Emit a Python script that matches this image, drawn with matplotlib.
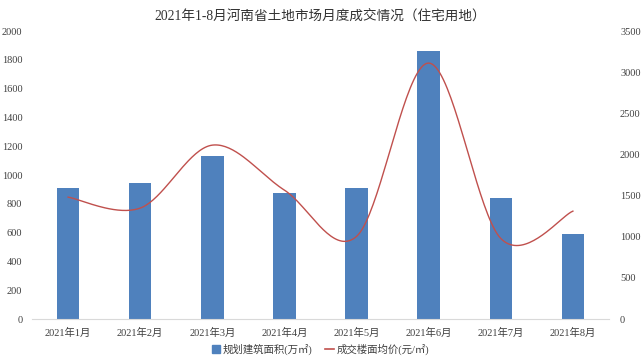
import numpy as np
import matplotlib
matplotlib.use("Agg")
import matplotlib.pyplot as plt
from matplotlib.lines import Line2D
from matplotlib.patches import Patch

plt.rcParams['font.family'] = ['Liberation Serif', 'Noto Sans CJK SC', 'DejaVu Sans']

# data
months = ['2021年1月', '2021年2月', '2021年3月', '2021年4月',
          '2021年5月', '2021年6月', '2021年7月', '2021年8月']
area = [910, 944, 1132, 875, 910, 1861, 840, 590]          # 规划建筑面积(万㎡)
price = [1482, 1349, 2114, 1567, 1005, 3111, 980, 1312]    # 成交楼面均价(元/㎡)

bar_color = '#4f81bd'
line_color = '#c0504d'
text_color = '#404040'


def smooth(xs, ys, n=40):
    # catmull-rom style bezier, like the "smoothed line" option in spreadsheets
    xs = np.asarray(xs, float)
    ys = np.asarray(ys, float)
    px = np.concatenate([[xs[0]], xs, [xs[-1]]])
    py = np.concatenate([[ys[0]], ys, [ys[-1]]])
    ox, oy = [], []
    t = np.linspace(0, 1, n)
    for i in range(1, len(px) - 2):
        p0 = np.array([px[i], py[i]])
        p3 = np.array([px[i + 1], py[i + 1]])
        p1 = p0 + (np.array([px[i + 1], py[i + 1]]) - np.array([px[i - 1], py[i - 1]])) / 6
        p2 = p3 - (np.array([px[i + 2], py[i + 2]]) - np.array([px[i], py[i]])) / 6
        b = ((1 - t) ** 3)[:, None] * p0 + (3 * (1 - t) ** 2 * t)[:, None] * p1 \
            + (3 * (1 - t) * t ** 2)[:, None] * p2 + (t ** 3)[:, None] * p3
        ox.extend(b[:, 0])
        oy.extend(b[:, 1])
    return np.array(ox), np.array(oy)


fig = plt.figure(figsize=(6.41, 3.61), dpi=100)
ax = fig.add_axes([0.05, 0.116, 0.9, 0.798])
x = np.arange(len(months))
ax.bar(x, area, width=0.31, color=bar_color)
ax.set_xlim(-0.5, len(months) - 0.5)
ax.set_ylim(0, 2000)
ax.set_yticks(np.arange(0, 2001, 200))
ax.set_xticks(x)
ax.set_xticklabels(months)

ax2 = ax.twinx()
sx, sy = smooth(x, price)
ax2.plot(sx, sy, color=line_color, lw=1)
ax2.set_ylim(0, 3500)
ax2.set_yticks(np.arange(0, 3501, 500))

for a in (ax, ax2):
    for s in a.spines.values():
        s.set_visible(False)
    a.tick_params(length=0, labelsize=7.5, colors=text_color)
ax.spines['bottom'].set_visible(True)
ax.spines['bottom'].set_color('#d9d9d9')
ax.tick_params(axis='y', pad=7)
ax2.tick_params(axis='y', pad=8)
ax.tick_params(axis='x', pad=6)

fig.suptitle('2021年1-8月河南省土地市场月度成交情况（住宅用地）', y=0.975,
             fontsize=9.8, color='#333333')

handles = [Patch(color=bar_color, label='规划建筑面积(万㎡)'),
           Line2D([], [], color=line_color, lw=1.2, label='成交楼面均价(元/㎡)')]
fig.legend(handles=handles, loc='lower center', ncol=2, frameon=False,
           fontsize=7.5, bbox_to_anchor=(0.5, -0.01), handlelength=0.8,
           handleheight=0.8, handletextpad=0.3, columnspacing=1.2,
           labelcolor=text_color)

fig.savefig('out.png', dpi=100)
